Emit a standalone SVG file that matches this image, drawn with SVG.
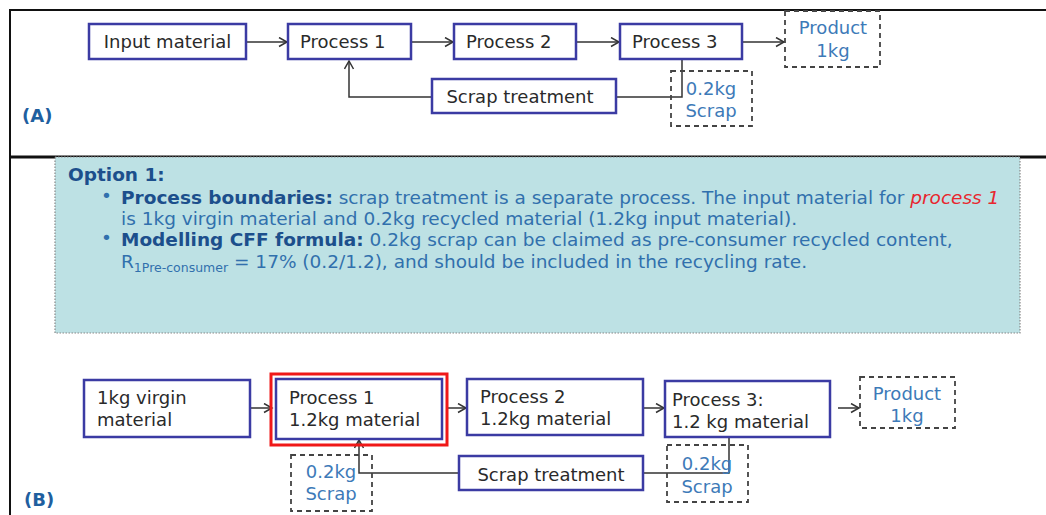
<svg xmlns="http://www.w3.org/2000/svg" width="1046" height="515" viewBox="0 0 1046 515">
<defs>
<style>
.bx{fill:#fff;stroke:#3b3ba3;stroke-width:2.5}
.dbx{fill:none;stroke:#444;stroke-width:1.8;stroke-dasharray:5 4}
.t{font-family:"DejaVu Sans",Verdana,sans-serif;font-size:18px;fill:#2a2a2a}
.bt{font-family:"DejaVu Sans",Verdana,sans-serif;font-size:18px;fill:#3d7ab8}
.lab{font-family:"DejaVu Sans",Verdana,sans-serif;font-size:18px;font-weight:bold;fill:#1f5f9f}
.ot{font-family:"DejaVu Sans",Verdana,sans-serif;font-size:18.5px;fill:#3170ad}
.ob{font-weight:bold;fill:#1c4f8c}
.red{fill:#e8262e;font-style:italic}
.c{fill:none;stroke:#333;stroke-width:1.5}
.frame{stroke:#111;stroke-width:2;fill:none}
</style>
<marker id="ah" markerUnits="userSpaceOnUse" markerWidth="12" markerHeight="12" refX="9" refY="5" orient="auto">
<path d="M1,0.5 L9,5 L1,9.5" fill="none" stroke="#333" stroke-width="1.5"/>
</marker>
</defs>
<rect width="1046" height="515" fill="#fff"/>
<g id="frame">
<path class="frame" d="M10,515 V10 H1046"/>
<path d="M10,157 H1046" stroke="#111" stroke-width="3"/>
</g>
<g id="option-box">
<rect x="55" y="157" width="965" height="176" fill="#bde1e4" stroke="#888" stroke-width="1.2" stroke-dasharray="1.5 1.5"/>
<text class="ot" x="68" y="181"><tspan class="ob">Option 1:</tspan></text>
<text class="ot" x="101" y="202" font-size="11">•</text>
<text class="ot" x="121" y="204"><tspan class="ob">Process boundaries:</tspan> scrap treatment is a separate process. The input material for <tspan class="red">process 1</tspan></text>
<text class="ot" x="121" y="225">is 1kg virgin material and 0.2kg recycled material (1.2kg input material).</text>
<text class="ot" x="101" y="244" font-size="11">•</text>
<text class="ot" x="121" y="246"><tspan class="ob">Modelling CFF formula:</tspan> 0.2kg scrap can be claimed as pre-consumer recycled content,</text>
<text class="ot" x="121" y="268">R<tspan font-size="12.5" dy="4">1Pre-consumer</tspan><tspan dy="-4"> = 17% (0.2/1.2), and should be included in the recycling rate.</tspan></text>
</g>
<g id="connectors">
<line class="c" x1="246" y1="42" x2="287" y2="42" marker-end="url(#ah)"/>
<line class="c" x1="411" y1="42" x2="453" y2="42" marker-end="url(#ah)"/>
<line class="c" x1="742" y1="42" x2="784" y2="42" marker-end="url(#ah)"/>
<line class="c" x1="576" y1="42" x2="619" y2="42" marker-end="url(#ah)"/>
<path class="c" d="M682,59 V97 H616"/>
<path class="c" d="M432,97 H349 V61" marker-end="url(#ah)"/>
<line class="c" x1="250" y1="408" x2="272" y2="408" marker-end="url(#ah)"/>
<line class="c" x1="447" y1="408" x2="466" y2="408" marker-end="url(#ah)"/>
<line class="c" x1="643" y1="408" x2="664" y2="408" marker-end="url(#ah)"/>
<line class="c" x1="838" y1="408" x2="859" y2="408" marker-end="url(#ah)"/>
<path class="c" d="M729,437 V473 H643"/>
<path class="c" d="M459,473 H359 V440" marker-end="url(#ah)"/>
</g>
<g id="label-A"><text class="lab" x="22" y="122">(A)</text></g>
<g id="a-input"><rect class="bx" x="89" y="24" width="157" height="35"/><text class="t" x="167.5" y="48" text-anchor="middle">Input material</text></g>
<g id="a-p1"><rect class="bx" x="288" y="24" width="123" height="35"/><text class="t" x="300" y="48">Process 1</text></g>
<g id="a-p2"><rect class="bx" x="454" y="24" width="122" height="35"/><text class="t" x="466" y="48">Process 2</text></g>
<g id="a-p3"><rect class="bx" x="620" y="24" width="122" height="35"/><text class="t" x="632" y="48">Process 3</text></g>
<g id="a-product"><rect class="dbx" x="785" y="11" width="95" height="56"/><text class="bt" x="833" y="34" text-anchor="middle">Product</text><text class="bt" x="833" y="57" text-anchor="middle">1kg</text></g>
<g id="a-scrap-treatment"><rect class="bx" x="432" y="79" width="184" height="34"/><text class="t" x="520" y="103" text-anchor="middle">Scrap treatment</text></g>
<g id="a-scrap"><rect class="dbx" x="671" y="71" width="81" height="55"/><text class="bt" x="711" y="95" text-anchor="middle">0.2kg</text><text class="bt" x="711" y="117" text-anchor="middle">Scrap</text></g>
<g id="label-B"><text class="lab" x="24" y="506">(B)</text></g>
<g id="b-virgin"><rect class="bx" x="84" y="380" width="166" height="57"/><text class="t" x="97" y="404">1kg virgin</text><text class="t" x="97" y="426">material</text></g>
<g id="b-p1"><rect x="271" y="374" width="176" height="71" fill="none" stroke="#f01818" stroke-width="3"/><rect class="bx" x="276" y="379" width="166" height="60"/><text class="t" x="289" y="404">Process 1</text><text class="t" x="289" y="426">1.2kg material</text></g>
<g id="b-p2"><rect class="bx" x="467" y="379" width="176" height="56"/><text class="t" x="480" y="403">Process 2</text><text class="t" x="480" y="425">1.2kg material</text></g>
<g id="b-p3"><rect class="bx" x="665" y="381" width="165" height="56"/><text class="t" x="672" y="406">Process 3:</text><text class="t" x="672" y="428">1.2 kg material</text></g>
<g id="b-product"><rect class="dbx" x="860" y="377" width="95" height="51"/><text class="bt" x="907" y="400" text-anchor="middle">Product</text><text class="bt" x="907" y="422" text-anchor="middle">1kg</text></g>
<g id="b-scrap-treatment"><rect class="bx" x="459" y="456" width="184" height="34"/><text class="t" x="551" y="481" text-anchor="middle">Scrap treatment</text></g>
<g id="b-scrap-left"><rect class="dbx" x="291" y="455" width="81" height="56"/><text class="bt" x="331" y="478" text-anchor="middle">0.2kg</text><text class="bt" x="331" y="500" text-anchor="middle">Scrap</text></g>
<g id="b-scrap-right"><rect class="dbx" x="667" y="445" width="81" height="57"/><text class="bt" x="707" y="470" text-anchor="middle">0.2kg</text><text class="bt" x="707" y="493" text-anchor="middle">Scrap</text></g>
</svg>
